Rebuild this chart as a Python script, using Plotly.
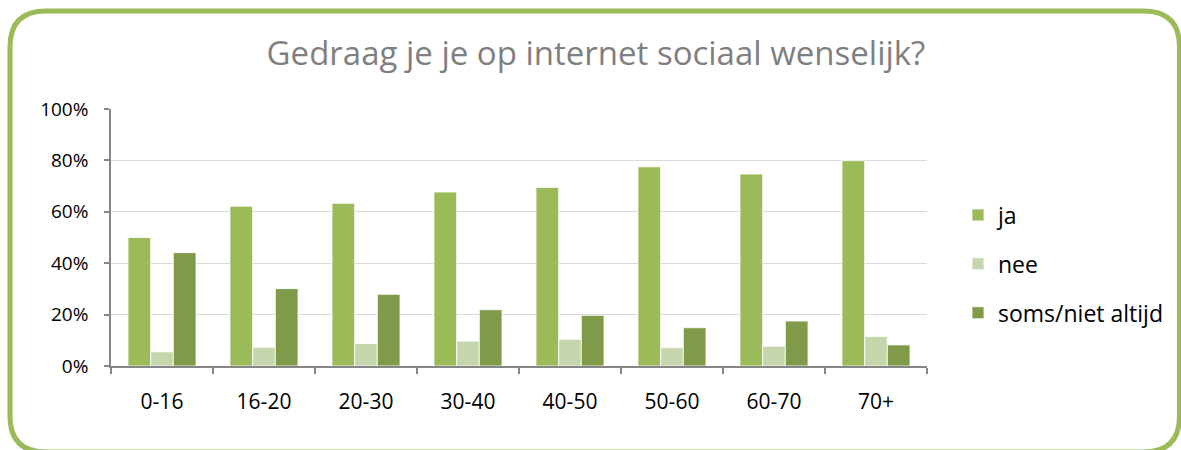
import plotly.graph_objects as go

categories = ["0-16", "16-20", "20-30", "30-40", "40-50", "50-60", "60-70", "70+"]
ja = [50, 62.2, 63.3, 67.7, 69.5, 77.5, 74.7, 79.9]
nee = [5.5, 7.3, 8.7, 9.7, 10.4, 7.1, 7.7, 11.5]
soms = [44.1, 30.1, 27.9, 21.9, 19.7, 14.9, 17.5, 8.2]
series_names = ["ja", "nee", "soms/niet altijd"]
series_colors = ["#9bbb59", "#c6d6ac", "#7f9a48"]
title_text = "Gedraag je je op internet sociaal wenselijk?"

W, H = 1181, 450
# plot area in screen pixels
SX0, SX1, SY0, SY1 = 111, 927, 109, 366
L, T = SX0, SY0
R = W - SX1
B = H - SY1
PW, PH = SX1 - SX0, SY1 - SY0
FONT = "Open Sans"

fig = go.Figure()
for name, vals, col in zip(series_names, [ja, nee, soms], series_colors):
    fig.add_trace(go.Bar(
        x=categories, y=vals, name=name, legendgroup=name,
        marker=dict(color=col, line=dict(color="rgba(255,255,255,0.8)", width=1)),
    ))

def px(x):
    return (x - SX0) / PW

def py(y):
    return (SY1 - y) / PH

# rounded border (screen pixels) converted to paper coords
x0, x1, y0, y1, r = 10, 1179.5, 11, 452, 36
pts = [
    ("M", x0 + r, y0),
    ("L", x1 - r, y0),
    ("Q", x1, y0, x1, y0 + r),
    ("L", x1, y1 - r),
    ("Q", x1, y1, x1 - r, y1),
    ("L", x0 + r, y1),
    ("Q", x0, y1, x0, y1 - r),
    ("L", x0, y0 + r),
    ("Q", x0, y0, x0 + r, y0),
]
path = ""
for p in pts:
    cmd = p[0]
    coords = p[1:]
    s = []
    for i in range(0, len(coords), 2):
        s.append(f"{px(coords[i]):.5f},{py(coords[i+1]):.5f}")
    path += cmd + " ".join(s) + " "
path += "Z"

fig.update_layout(
    width=W, height=H,
    margin=dict(l=L, r=R, t=T, b=B, autoexpand=False),
    paper_bgcolor="white", plot_bgcolor="white",
    font=dict(family=FONT, color="#000000"),
    title=dict(text=title_text, x=596 / W, xanchor="center", xref="container",
               y=1 - 53 / H, yanchor="middle", yref="container",
               font=dict(family=FONT, size=33, color="#7f7f7f")),
    barmode="group", bargap=0.333, bargroupgap=0,
    showlegend=True,
    legend=dict(x=px(958), xanchor="left", y=py(264), yanchor="middle",
                traceorder="grouped", tracegroupgap=16,
                font=dict(family=FONT, size=23, color="#000000"),
                bgcolor="rgba(0,0,0,0)"),
    xaxis=dict(type="category", showline=True, linecolor="#868686", linewidth=1.5,
               ticks="outside", tickson="boundaries", ticklen=6, tickcolor="#868686",
               tickwidth=1.5, showgrid=False, ticklabelstandoff=16,
               tickfont=dict(family=FONT, size=21, color="#000000")),
    yaxis=dict(range=[0, 100], tickvals=[0, 20, 40, 60, 80, 100],
               ticktext=["0%", "20%", "40%", "60%", "80%", "100%"],
               showline=True, linecolor="#868686", linewidth=1.5,
               ticks="outside", ticklen=5, tickcolor="#868686", tickwidth=1.5,
               showgrid=True, gridcolor="#d9d9d9", gridwidth=1, zeroline=False,
               ticklabelstandoff=12,
               tickfont=dict(family=FONT, size=19, color="#000000")),
    shapes=[dict(type="path", xref="paper", yref="paper", path=path,
                 line=dict(color="#9bbb59", width=5), fillcolor="rgba(0,0,0,0)",
                 layer="above")],
)

fig.write_html("out.html", config={"displayModeBar": False},
               post_script="document.body.style.margin='0';document.body.style.overflow='hidden';")
